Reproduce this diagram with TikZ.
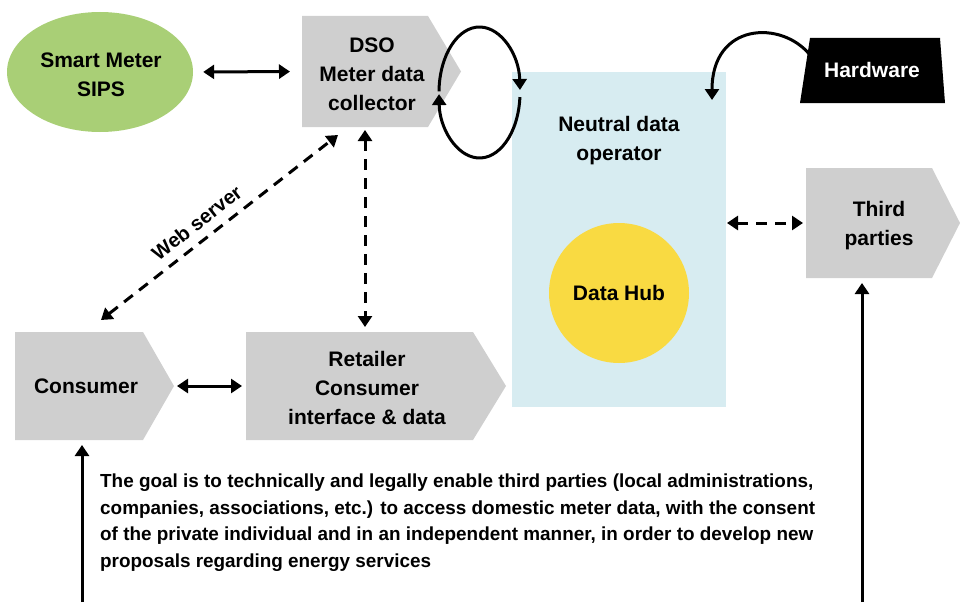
\documentclass[tikz,border=0pt]{standalone}
\usepackage{fontspec}
\setmainfont{Liberation Sans}
\usetikzlibrary{arrows.meta,shapes.geometric}
\definecolor{grayC}{HTML}{CFCFCF}
\definecolor{blueC}{HTML}{D7ECF1}
\definecolor{greenC}{HTML}{A9CF76}
\definecolor{yellowC}{HTML}{F9DA42}
\begin{document}
\begin{tikzpicture}[x=1pt,y=-1pt,
  body/.style={draw=none, inner sep=0pt, outer sep=0pt, rectangle},
  lbl/.style={align=center, inner sep=0pt, font=\fontsize{21}{29}\selectfont\bfseries},
  conn/.style={line width=3pt, >={Triangle[length=11pt,width=14pt]}},
  dashconn/.style={conn, dash pattern=on 11pt off 8pt},
]
\useasboundingbox (0,0) rectangle (960,602);

% Smart meter
\node[ellipse, fill=greenC, inner sep=0pt, minimum width=186pt, minimum height=120pt] (sm) at (100,72) {};
\node[lbl] (smT) at (101,75) {Smart Meter\\SIPS};

% DSO
\node[body, minimum width=126pt, minimum height=111pt] (dso) at (365,71.5) {};
\fill[grayC] (dso.north west) -- (dso.north east) -- ([xshift=33pt]dso.east) -- (dso.south east) -- (dso.south west) -- cycle;
\node[lbl] (dsoT) at (372,74) {DSO\\Meter data\\collector};

% Neutral data operator
\node[body, fill=blueC, minimum width=214pt, minimum height=335pt] (ndo) at (619,239.5) {};
\node[lbl] (ndoT) at (619,141) {Neutral data\\operator};
\node[circle, fill=yellowC, inner sep=0pt, minimum size=140pt] (hub) at (619,293) {};
\node[lbl] (hubT) at (619,293) {Data Hub};

% Hardware
\node[body, minimum width=145pt, minimum height=65pt] (hw) at (872.5,70.5) {};
\fill[black] (810,38) -- (940,38) -- (945,103) -- (800,103) -- cycle;
\node[lbl, text=white] (hwT) at (872,70) {Hardware};

% Third parties
\node[body, minimum width=126pt, minimum height=110pt] (tp) at (869,223) {};
\fill[grayC] (tp.north west) -- (tp.north east) -- ([xshift=28pt]tp.east) -- (tp.south east) -- (tp.south west) -- cycle;
\node[lbl] (tpT) at (879,226) {Third\\parties};

% Consumer
\node[body, minimum width=128pt, minimum height=108pt] (cons) at (79,386) {};
\fill[grayC] (cons.north west) -- (cons.north east) -- ([xshift=31pt]cons.east) -- (cons.south east) -- (cons.south west) -- cycle;
\node[lbl] (consT) at (86,386) {Consumer};

% Retailer
\node[body, minimum width=227pt, minimum height=108pt] (ret) at (359.5,386) {};
\fill[grayC] (ret.north west) -- (ret.north east) -- ([xshift=33pt]ret.east) -- (ret.south east) -- (ret.south west) -- cycle;
\node[lbl] (retT) at (367,388) {Retailer\\Consumer\\interface \& data};

% Bottom text
\node[anchor=north west, align=left, inner sep=0pt, font=\fontsize{18.9}{26.5}\selectfont\bfseries] (goal) at (100,474)
 {The goal is to technically and legally enable third parties (local administrations,\\
  companies, associations, etc.) to access domestic meter data, with the consent\\
  of the private individual and in an independent manner, in order to develop new\\
  proposals regarding energy services};

% Connectors
\draw[conn,<->,shorten <=10pt,shorten >=12pt] (sm.east) -- (dso.west);
\coordinate (loopC) at (479.5,92.5);
\draw[conn,->] (loopC) ++(181:40.5 and 65.5) arc[start angle=181,end angle=357.8,x radius=40.5,y radius=65.5];
\draw[conn,->] (loopC) ++(4:40.5 and 65.5) arc[start angle=4,end angle=178.6,x radius=40.5,y radius=65.5];

\coordinate (hwStart) at (810,55);
\coordinate (hwEnd) at (712,100);
\draw[conn,->] (hwStart) .. controls (782,20) and (712,22) .. (hwEnd);

\draw[dashconn,<->,shorten <=1pt,shorten >=3pt] (ndo.east |- tp.west) -- (tp.west);

\coordinate (tpIn) at (862,602);
\draw[conn,->,shorten >=5pt] (tpIn) -- (tpIn |- tp.south);

\coordinate (wsA) at (338,135);
\coordinate (wsB) at (101,320);
\draw[dashconn,<->] (wsB) -- node[pos=0.45, sloped, above=9pt, lbl, font=\fontsize{20}{24}\selectfont\bfseries] (wsT) {Web server} (wsA);

\draw[dashconn,<->,shorten <=3pt,shorten >=5pt] (dso.south) -- (dso.south |- ret.north);

\draw[conn,<->,shorten <=34pt,shorten >=4pt] (cons.east) -- (ret.west);

\coordinate (cIn) at (82,602);
\draw[conn,->,shorten >=5pt] (cIn) -- (cIn |- cons.south);
\end{tikzpicture}
\end{document}
